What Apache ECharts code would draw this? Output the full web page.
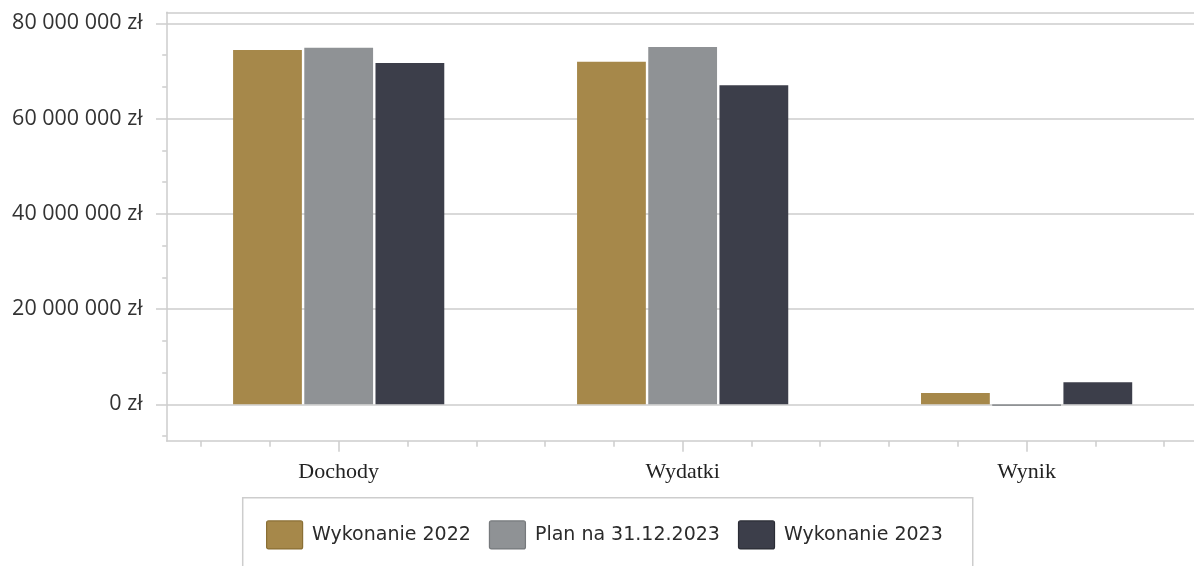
<!DOCTYPE html>
<html>
<head>
<meta charset="utf-8">
<script src="https://cdn.jsdelivr.net/npm/echarts@6/dist/echarts.min.js"></script>
<style>
html,body{margin:0;padding:0;background:#fff;}
#chart{width:1194px;height:566px;}
</style>
</head>
<body>
<div id="chart"></div>
<script>
// ---- data ----
const categories = ['Dochody', 'Wydatki', 'Wynik'];
const seriesNames = ['Wykonanie 2022', 'Plan na 31.12.2023', 'Wykonanie 2023'];
const wykonanie2022 = [74390000, 71940000, 2370000];
const plan2023 = [74880000, 75020000, -350000];
const wykonanie2023 = [71660000, 66980000, 4620000];
const yTickValues = [0, 20000000, 40000000, 60000000, 80000000];

// ---- style ----
const colors = ['#A6884A', '#8F9295', '#3C3E4A'];
const iconBorders = ['#8A6F34', '#76797C', '#2A2C35'];
const gridColor = '#cdcdcd';

function fmtZl(v) {
  return String(Math.round(v)).replace(/\B(?=(\d{3})+(?!\d))/g, ' ') + ' zł';
}

const yMajorInterval = yTickValues[1] - yTickValues[0];
const yMajorMax = yTickValues[yTickValues.length - 1];
const minorPerMajor = 3;
const minorSteps = (yTickValues.length - 1) * minorPerMajor;
const xMinorTicks = Array.from({ length: categories.length * 5 }, (_, i) => String(i));

const gridLeft = 166.7, gridWidth = 1031.9;

const chart = echarts.init(document.getElementById('chart'), null, { renderer: 'canvas' });
chart.setOption({
  animation: false,
  backgroundColor: '#ffffff',
  grid: [
    { left: gridLeft, top: 12.3, width: gridWidth, height: 428.7, outerBoundsMode: 'none', containLabel: false },
    { left: gridLeft, top: 23.3, width: gridWidth, height: 381, outerBoundsMode: 'none', containLabel: false },
    { left: gridLeft, top: 23.3, width: gridWidth, height: 412.75, outerBoundsMode: 'none', containLabel: false }
  ],
  xAxis: [
    {
      type: 'category', gridIndex: 0, data: categories, position: 'bottom',
      axisLine: { show: true, onZero: false, lineStyle: { color: gridColor, width: 1.5 } },
      axisTick: { show: true, alignWithLabel: true, length: 10.7, lineStyle: { color: gridColor, width: 1.5 } },
      axisLabel: { margin: 20, fontFamily: '"Liberation Serif", "DejaVu Serif", serif', fontSize: 22, color: '#222' },
      splitLine: { show: false }
    },
    {
      type: 'category', gridIndex: 0, data: xMinorTicks, position: 'bottom', offset: 0,
      axisLine: { show: false, onZero: false },
      axisTick: { show: true, alignWithLabel: true, length: 5.7, lineStyle: { color: gridColor, width: 1.5 } },
      axisLabel: { show: false },
      splitLine: { show: false }
    },
    {
      type: 'category', gridIndex: 0, data: categories, position: 'top',
      axisLine: { show: true, onZero: false, lineStyle: { color: gridColor, width: 1.5 } },
      axisTick: { show: false }, axisLabel: { show: false }, splitLine: { show: false }
    },
    { type: 'value', gridIndex: 1, show: false },
    { type: 'value', gridIndex: 2, show: false }
  ],
  yAxis: [
    {
      type: 'value', gridIndex: 0, min: -7706000, max: 82310000,
      axisLine: { show: true, onZero: false, lineStyle: { color: gridColor, width: 1.5 } },
      axisTick: { show: false }, axisLabel: { show: false }, splitLine: { show: false }
    },
    {
      type: 'value', gridIndex: 1, min: 0, max: yMajorMax, interval: yMajorInterval,
      axisLine: { show: false },
      axisTick: { show: true, length: 10.7, lineStyle: { color: gridColor, width: 1.5 } },
      axisLabel: { show: true, margin: 24, formatter: fmtZl, fontFamily: '"Open Sans", "Noto Sans", sans-serif', fontSize: 21.5, color: '#333' },
      splitLine: { show: true, lineStyle: { color: gridColor, width: 1.5 } }
    },
    {
      type: 'value', gridIndex: 2, min: -1, max: minorSteps, interval: 1,
      axisLine: { show: false },
      axisTick: { show: true, length: 4.5, lineStyle: { color: gridColor, width: 1.5 } },
      axisLabel: { show: false }, splitLine: { show: false }
    }
  ],
  legend: {
    left: 242.7, top: 497.7,
    orient: 'horizontal',
    padding: [22.6, 30, 45, 23.3],
    borderColor: gridColor, borderWidth: 1.5,
    itemWidth: 36, itemHeight: 28, itemGap: 18,
    icon: 'path://M2,0 L34,0 Q36,0 36,2 L36,26 Q36,28 34,28 L2,28 Q0,28 0,26 L0,2 Q0,0 2,0 Z',
    selectedMode: false,
    textStyle: { fontFamily: '"DejaVu Sans", Verdana, sans-serif', fontSize: 19, color: '#2b2b2b', padding: [0, 0, 0, 4.5] },
    data: seriesNames.map((n, i) => ({ name: n, itemStyle: { borderColor: iconBorders[i], borderWidth: 1.2 } }))
  },
  series: [wykonanie2022, plan2023, wykonanie2023].map((d, i) => ({
    name: seriesNames[i],
    type: 'bar',
    xAxisIndex: 0, yAxisIndex: 0,
    data: d,
    barWidth: '20%',
    barGap: '3.5%',
    itemStyle: { color: colors[i] },
    emphasis: { disabled: true }
  }))
});
</script>
</body>
</html>
